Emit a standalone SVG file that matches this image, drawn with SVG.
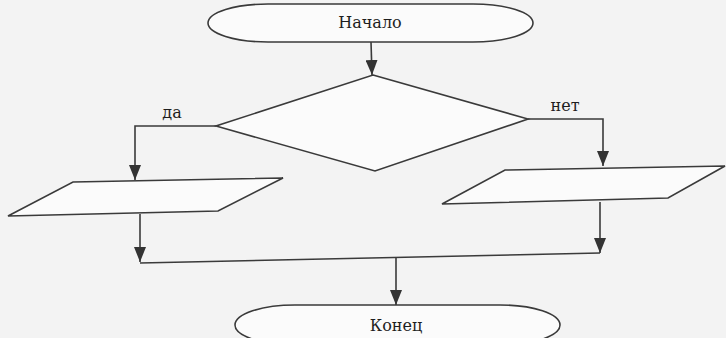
<svg xmlns="http://www.w3.org/2000/svg" width="726" height="338" viewBox="0 0 726 338">
<style>
.s{fill:#fbfbfb;stroke:#3a3a3a;stroke-width:1.6}
.c{fill:none;stroke:#3a3a3a;stroke-width:1.6}
.t{font-family:"DejaVu Serif","Liberation Serif",serif;font-size:16px;fill:#1e1e1e}
</style>
<defs>
<marker id="ah" markerWidth="15" markerHeight="12" refX="15" refY="6" orient="auto" markerUnits="userSpaceOnUse" viewBox="0 0 15 12">
<path d="M0,0 L15,6 L0,12 Z" fill="#333"/>
</marker>
</defs>
<rect width="726" height="338" fill="#f3f3f3"/>
<g id="start">
<rect class="s" x="208" y="4" width="325" height="38" rx="60" ry="19"/>
<text class="t" x="370" y="28" text-anchor="middle">Начало</text>
</g>
<g id="decision">
<polygon class="s" points="373,75 528,119 375,171 216,126"/>
</g>
<g id="io-left">
<polygon class="s" points="73,182 283,178 218,211 8,216"/>
</g>
<g id="io-right">
<polygon class="s" points="505,170 725,166 668,198 442,204"/>
</g>
<g id="end">
<rect class="s" x="235" y="305" width="325" height="40" rx="60" ry="20"/>
<text class="t" x="396" y="331" text-anchor="middle">Конец</text>
</g>
<g id="connectors">
<path class="c" d="M371,42 L372,75" marker-end="url(#ah)"/>
<path class="c" d="M216,126 L135,126 L135,180" marker-end="url(#ah)"/>
<path class="c" d="M528,119 L603,119 L603,166" marker-end="url(#ah)"/>
<path class="c" d="M140,214 L140,262" marker-end="url(#ah)"/>
<path class="c" d="M600,202 L600,253" marker-end="url(#ah)"/>
<path class="c" d="M140,263 L600,253"/>
<path class="c" d="M396,258 L396,305" marker-end="url(#ah)"/>
</g>
<g id="labels">
<text class="t" x="172" y="118" text-anchor="middle">да</text>
<text class="t" x="565" y="111" text-anchor="middle">нет</text>
</g>
</svg>
